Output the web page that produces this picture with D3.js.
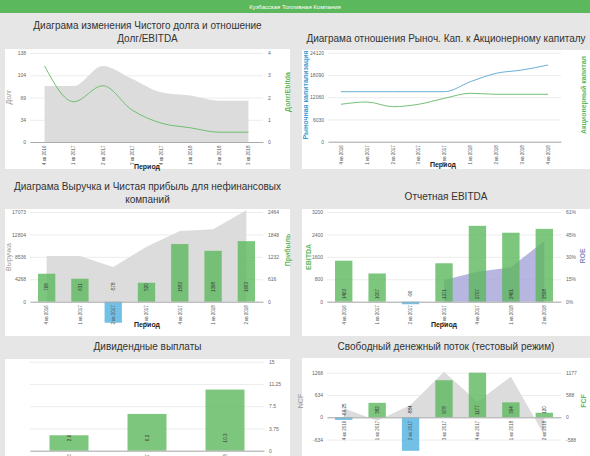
<!DOCTYPE html>
<html><head><meta charset="utf-8">
<script src="https://cdn.jsdelivr.net/npm/d3@7"></script>
<style>
body{margin:0;background:#e6e6e6;}
svg{display:block;font-family:"Liberation Sans",Arial,sans-serif;}
</style>
</head><body>
<svg id="c" width="590" height="456"></svg>
<script>
// ---------- DATA ----------
const headerTitle = "Кузбасская Топливная Компания";

const periods8 = ["4 кв 2016","1 кв 2017","2 кв 2017","3 кв 2017","4 кв 2017","1 кв 2018","2 кв 2018","3 кв 2018"];
const netDebt = [87, 87, 118, 98, 77, 72, 64, 64];
const debtEbitda = [3.42, 1.81, 2.53, 1.44, 0.85, 0.64, 0.44, 0.44];
const debtTicks = [0, 34.5, 69, 103.5, 138];
const debtTickLabels = ["0","34","69","104","138"];
const ratioTicks = [0, 1, 2, 3, 4];

const periods9 = ["4 кв 2016","1 кв 2017","2 кв 2017","3 кв 2017","4 кв 2017","1 кв 2018","2 кв 2018","3 кв 2018","4 кв 2018"];
const marketCap = [13550, 13550, 13550, 13550, 13550, 16260, 18540, 19430, 20790];
const equity = [10140, 10760, 9490, 10140, 11760, 13120, 12850, 12850, 12850];
const capTicks = [0, 6030, 12060, 18090, 24120];

const periods7 = ["4 кв 2016","1 кв 2017","2 кв 2017","3 кв 2017","4 кв 2017","1 кв 2018","2 кв 2018"];
const revenue = [8700, 8700, 6600, 10470, 13460, 13780, 17400];
const profit = [768, 631, -578, 520, 1583, 1398, 1663];
const revTicks = [0, 4268, 8536, 12804, 17073];
const profitTicks = [0, 616, 1232, 1848, 2464];

const ebitda = [1463, 1007, -90, 1371, 2707, 2461, 2598];
const roe = [null, null, null, 14.8, 20.4, 23.4, 41.3];
const ebitdaTicks = [0, 800, 1600, 2400, 3200];
const roeTicks = [0, 15.25, 30.5, 45.75, 61];
const roeTickLabels = ["0%","15%","30%","45%","61%"];

const divYears = ["2016","2017","2018"];
const dividends = [2.6, 6.2, 10.3];
const divTicks = [0, 3.75, 7.5, 11.25, 15];
const divTickLabels = ["0","3.75","7.5","11.25","15"];

const ncf = [256, -95, 350, 1296, 443, 1154, -503];
const fcf = [-69.25, 382, -884, 978, 1177, 394, 120];
const ncfTicks = [-634, 0, 634, 1268];
const fcfTicks = [-588, 0, 588, 1177];

// ---------- STYLE ----------
const GREEN = "#5cb85c", BLUE = "#4fb0e0", GRAYAREA = "#dcdcdc", PURPLE = "#9d9dd6";
const svg = d3.select("#c");

// header
svg.append("rect").attr("x",0).attr("y",0).attr("width",590).attr("height",13).attr("fill","#5cb85c");
svg.append("text").attr("x",295).attr("y",9).attr("text-anchor","middle").attr("font-size",6)
  .attr("fill","#fff").text(headerTitle);

function panel(box, lines, titleY){
  svg.append("rect").attr("x",box.x).attr("y",box.y).attr("width",box.w).attr("height",box.h).attr("fill","#fff");
  lines.forEach((t,i)=>svg.append("text").attr("x",box.x+box.w/2).attr("y",titleY+i*13)
    .attr("text-anchor","middle").attr("font-size",10).attr("fill","#333").text(t));
}

function yAxes(g, x0, x1, yL, ticksL, labL, yR, ticksR, labR){
  const ga = g.append("g").attr("transform",`translate(${x0},0)`)
    .call(d3.axisLeft(yL).tickValues(ticksL).tickFormat((d,i)=>labL?labL[i]:d).tickSize(-(x1-x0)).tickPadding(4));
  ga.select(".domain").remove();
  ga.selectAll("line").attr("stroke","#ececec");
  ga.selectAll("text").attr("font-size",5).attr("fill","#666").attr("font-family","Liberation Sans, Arial");
  if(yR){
    const gr = g.append("g").attr("transform",`translate(${x1},0)`)
      .call(d3.axisRight(yR).tickValues(ticksR).tickFormat((d,i)=>labR?labR[i]:d).tickSize(0).tickPadding(5));
    gr.select(".domain").remove();
    gr.selectAll("text").attr("font-size",5).attr("fill","#666").attr("font-family","Liberation Sans, Arial");
  }
}

function xAxis(g, x, y0){
  const ax = g.append("g").attr("transform",`translate(0,${y0})`)
    .call(d3.axisBottom(x).tickSize(0).tickPadding(0));
  ax.select(".domain").attr("stroke","#aaa");
  ax.selectAll("text").attr("font-size",4.5).attr("fill","#555").attr("font-family","Liberation Sans, Arial")
    .attr("text-anchor","end").attr("dy",0).attr("transform","translate(1.8,3.5) rotate(-90)");
  return ax;
}

function axisTitle(x, y, text, color, rot, bold){
  svg.append("text").attr("transform",`translate(${x},${y}) rotate(${rot})`).attr("text-anchor","middle")
    .attr("font-size",7).attr("fill",color).attr("font-weight",bold?"bold":"normal").text(text);
}

function periodTitle(x, y){
  svg.append("text").attr("x",x).attr("y",y).attr("text-anchor","middle").attr("font-size",7)
    .attr("font-weight","bold").attr("fill","#222").text("Период");
}

function barLabels(g, x, data, y, fmt){
  g.selectAll(null).data(data).enter().append("text")
    .attr("transform",(d,i)=>`translate(${x(i)+x.bandwidth()/2+1.8},${y}) rotate(-90)`)
    .attr("text-anchor","middle").attr("font-size",4.5).attr("fill","#333")
    .text(d=>fmt?fmt(d):d);
}

// ---------- CHART 1 ----------
{
  panel({x:5,y:49,w:285,h:120}, ["Диаграма изменения Чистого долга и отношение","Долг/EBITDA"], 29);
  const g = svg.append("g");
  const x0=30, x1=263;
  const x = d3.scaleBand().domain(periods8).range([x0,x1]);
  const cx = (d,i)=>x(periods8[i])+x.bandwidth()/2;
  const yL = d3.scaleLinear().domain([0,138]).range([142,53]);
  const yR = d3.scaleLinear().domain([0,4]).range([142,53]);
  yAxes(g, x0, x1, yL, debtTicks, debtTickLabels, yR, ratioTicks, null);
  g.append("path").datum(netDebt).attr("fill",GRAYAREA)
    .attr("d", d3.area().x(cx).y0(yL(0)).y1(d=>yL(d)).curve(d3.curveMonotoneX));
  g.append("path").datum(debtEbitda).attr("fill","none").attr("stroke","#6fbf6f").attr("stroke-width",1)
    .attr("d", d3.line().x(cx).y(d=>yR(d)).curve(d3.curveMonotoneX));
  xAxis(g, x, 142);
  axisTitle(11, 97, "Долг", "#999", -90, false);
  axisTitle(290, 92, "Долг/Ebitda", "#5cb85c", -90, true);
  periodTitle(147, 168.5);
}

// ---------- CHART 2 ----------
{
  panel({x:302,y:50,w:288,h:119}, ["Диаграма отношения Рыноч. Кап. к Акционерному капиталу"], 42);
  const g = svg.append("g");
  const x0=328, x1=561;
  const x = d3.scaleBand().domain(periods9).range([x0,x1]);
  const cx = (d,i)=>x(periods9[i])+x.bandwidth()/2;
  const yL = d3.scaleLinear().domain([0,24120]).range([141.7,52.7]);
  yAxes(g, x0, x1, yL, capTicks, null, null);
  g.append("path").datum(marketCap).attr("fill","none").attr("stroke","#6aaed6").attr("stroke-width",1)
    .attr("d", d3.line().x(cx).y(d=>yL(d)).curve(d3.curveMonotoneX));
  g.append("path").datum(equity).attr("fill","none").attr("stroke","#78bf78").attr("stroke-width",1)
    .attr("d", d3.line().x(cx).y(d=>yL(d)).curve(d3.curveMonotoneX));
  xAxis(g, x, 141.7);
  axisTitle(308, 95, "Рыночная капитализация", "#3d9bd1", -90, true);
  axisTitle(586, 95, "Акционерный капитал", "#5cb85c", -90, true);
  periodTitle(443, 166.5);
}

// ---------- CHART 3 ----------
{
  panel({x:5,y:209,w:285,h:127}, ["Диаграма Выручка и Чистая прибыль для нефинансовых","компаний"], 189.5);
  const g = svg.append("g");
  const x0=30, x1=263;
  const x = d3.scaleBand().domain(periods7).range([x0,x1]);
  const xi = d3.scaleBand().domain(d3.range(7)).range([x0,x1]).paddingInner(0.48).paddingOuter(0.24);
  const cx = (d,i)=>x(periods7[i])+x.bandwidth()/2;
  const yL = d3.scaleLinear().domain([0,17073]).range([301.7,212]);
  const yR = d3.scaleLinear().domain([0,2464]).range([301.7,212]);
  yAxes(g, x0, x1, yL, revTicks, null, yR, profitTicks, null);
  g.append("clipPath").attr("id","clip3").append("rect").attr("x",x0).attr("y",209).attr("width",x1-x0).attr("height",100);
  g.append("path").datum(revenue).attr("fill",GRAYAREA).attr("clip-path","url(#clip3)")
    .attr("d", d3.area().x(cx).y0(yL(0)).y1(d=>yL(d)));
  g.selectAll(null).data(profit).enter().append("rect")
    .attr("x",(d,i)=>xi(i)).attr("width",xi.bandwidth())
    .attr("y",d=>yR(Math.max(0,d))).attr("height",d=>Math.abs(yR(d)-yR(0)))
    .attr("fill",d=>d<0?BLUE:GREEN).attr("fill-opacity",0.8);
  xAxis(g, x, 301.7);
  barLabels(g, xi, profit, 287);
  axisTitle(11, 257, "Выручка", "#999", -90, false);
  axisTitle(290, 250, "Прибыль", "#5cb85c", -90, true);
  periodTitle(147, 326.5);
}

// ---------- CHART 4 ----------
{
  panel({x:302,y:209,w:288,h:127}, ["Отчетная EBITDA"], 199.5);
  const g = svg.append("g");
  const x0=327, x1=561;
  const x = d3.scaleBand().domain(periods7).range([x0,x1]);
  const xi = d3.scaleBand().domain(d3.range(7)).range([x0,x1]).paddingInner(0.48).paddingOuter(0.24);
  const cx = (d,i)=>x(periods7[i])+x.bandwidth()/2;
  const yL = d3.scaleLinear().domain([0,3200]).range([301.7,212]);
  const yR = d3.scaleLinear().domain([0,61]).range([301.7,212]);
  yAxes(g, x0, x1, yL, ebitdaTicks, null, yR, roeTicks, roeTickLabels);
  g.append("path").datum(roe).attr("fill",PURPLE).attr("fill-opacity",0.75)
    .attr("d", d3.area().defined(d=>d!==null).x(cx).y0(yR(0)).y1(d=>yR(d)));
  g.selectAll(null).data(ebitda).enter().append("rect")
    .attr("x",(d,i)=>xi(i)).attr("width",xi.bandwidth())
    .attr("y",d=>yL(Math.max(0,d))).attr("height",d=>Math.abs(yL(d)-yL(0)))
    .attr("fill",d=>d<0?BLUE:GREEN).attr("fill-opacity",0.8);
  xAxis(g, x, 301.7);
  barLabels(g, xi, ebitda, 294);
  axisTitle(311, 257, "EBITDA", "#5cb85c", -90, true);
  axisTitle(585, 256, "ROE", "#8a8ac4", -90, true);
  periodTitle(444, 326.5);
}

// ---------- CHART 5 ----------
{
  panel({x:5,y:359,w:285,h:97}, ["Дивидендные выплаты"], 349.5);
  const g = svg.append("g");
  const x0=30, x1=264;
  const x = d3.scaleBand().domain(divYears).range([x0,x1]);
  const xi = d3.scaleBand().domain(d3.range(3)).range([x0,x1]).paddingInner(0.5).paddingOuter(0.25);
  const y = d3.scaleLinear().domain([0,15]).range([450.7,361.7]);
  const ga = g.append("g").attr("transform",`translate(${x0},0)`)
    .call(d3.axisLeft(y).tickValues(divTicks).tickSize(-(x1-x0)).tickFormat(""));
  ga.select(".domain").remove(); ga.selectAll("line").attr("stroke","#ececec");
  const gr = g.append("g").attr("transform",`translate(${x1},0)`)
    .call(d3.axisRight(y).tickValues(divTicks).tickFormat((d,i)=>divTickLabels[i]).tickSize(0).tickPadding(5));
  gr.select(".domain").remove();
  gr.selectAll("text").attr("font-size",5).attr("fill","#666").attr("font-family","Liberation Sans, Arial");
  g.selectAll(null).data(dividends).enter().append("rect")
    .attr("x",(d,i)=>xi(i)).attr("width",xi.bandwidth())
    .attr("y",d=>y(d)).attr("height",d=>y(0)-y(d))
    .attr("fill",GREEN).attr("fill-opacity",0.8);
  xAxis(g, x, 450.7);
  barLabels(g, xi, dividends, 438);
}

// ---------- CHART 6 ----------
{
  panel({x:302,y:358,w:288,h:98}, ["Свободный денежный поток (тестовый режим)"], 349.5);
  const g = svg.append("g");
  const x0=327, x1=561;
  const x = d3.scaleBand().domain(periods7).range([x0,x1]);
  const xi = d3.scaleBand().domain(d3.range(7)).range([x0,x1]).paddingInner(0.48).paddingOuter(0.24);
  const cx = (d,i)=>x(periods7[i])+x.bandwidth()/2;
  const yL = d3.scaleLinear().domain([-1268,1268]).range([461.9,372.7]);
  const yR = d3.scaleLinear().domain([-1177,1177]).range([461.9,372.7]);
  yAxes(g, x0, x1, yL, ncfTicks, null, yR, fcfTicks, null);
  g.append("path").datum(ncf).attr("fill",GRAYAREA)
    .attr("d", d3.area().x(cx).y0(yL(0)).y1(d=>yL(d)));
  g.selectAll(null).data(fcf).enter().append("rect")
    .attr("x",(d,i)=>xi(i)).attr("width",xi.bandwidth())
    .attr("y",d=>yR(Math.max(0,d))).attr("height",d=>Math.abs(yR(d)-yR(0)))
    .attr("fill",d=>d<0?BLUE:GREEN).attr("fill-opacity",0.8);
  xAxis(g, x, yL(0));
  barLabels(g, xi, fcf, 410);
  axisTitle(303, 401, "NCF", "#999", -90, false);
  axisTitle(586, 401, "FCF", "#5cb85c", -90, true);
}
</script>
</body></html>
